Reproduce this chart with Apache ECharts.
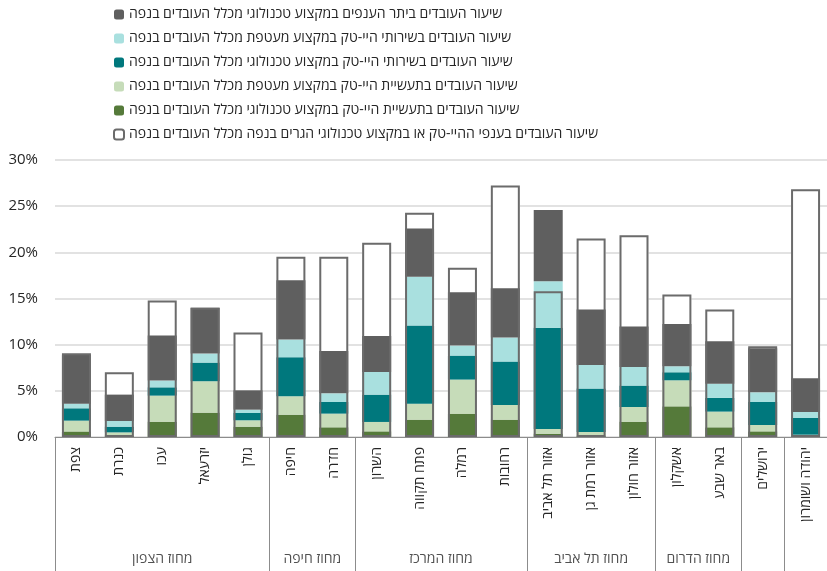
<!DOCTYPE html>
<html>
<head>
<meta charset="utf-8">
<script src="https://cdn.jsdelivr.net/npm/echarts@6/dist/echarts.min.js"></script>
<style>
html,body{margin:0;padding:0;background:#fff;}
#chart{width:827px;height:571px;}
</style>
</head>
<body>
<div id="chart"></div>
<script>
// ---- data ----
var categories = ['צפת','כנרת','עכו','יזרעאל','גולן','חיפה','חדרה','השרון','פתח תקווה','רמלה','רחובות','אזור תל אביב','אזור רמת גן','אזור חולון','אשקלון','באר שבע','ירושלים','יהודה ושומרון'];
var groupNames = ['מחוז הצפון','מחוז חיפה','מחוז המרכז','מחוז תל אביב','מחוז הדרום','',''];
var groupSizes = [5,2,4,3,2,1,1];

var industryTech   = [0.60,0.15,1.66,2.64,1.12, 2.42,1.05, 0.61,1.88,2.53,1.88, 0.36,0.15,1.66, 3.32,1.05, 0.61, 0.07];
var industryWrap   = [1.17,0.35,2.82,3.40,0.69, 1.99,1.48, 1.02,1.73,3.69,1.59, 0.51,0.39,1.59, 2.82,1.70, 0.69, 0.18];
var servicesTech   = [1.34,0.62,0.90,2.02,0.79, 4.23,1.26, 2.96,8.46,2.60,4.70, 10.95,4.70,2.32, 0.87,1.48, 2.49, 1.81];
var servicesWrap   = [0.50,0.61,0.73,0.98,0.36, 1.91,0.94, 2.46,5.28,1.08,2.60, 5.06,2.57,2.02, 0.65,1.55, 1.05, 0.65];
var otherTech      = [5.28,2.86,4.88,4.95,2.10, 6.44,4.59, 3.90,5.24,5.78,5.35, 7.70,6.00,4.37, 4.59,4.59, 4.77, 3.65];
var residentsTotal = [9.07,7.01,14.78,13.99,11.31, 19.52,19.52, 21.03,24.29,18.32,27.25, 15.79,21.50,21.86, 15.43,13.81, 9.83, 26.82];

var yTicks = [0,5,10,15,20,25,30];

var names = {
  other: 'שיעור העובדים ביתר הענפים במקצוע טכנולוגי מכלל העובדים בנפה',
  servWrap: 'שיעור העובדים בשירותי היי-טק במקצוע מעטפת מכלל העובדים בנפה',
  servTech: 'שיעור העובדים בשירותי היי-טק במקצוע טכנולוגי מכלל העובדים בנפה',
  indWrap: 'שיעור העובדים בתעשיית היי-טק במקצוע מעטפת מכלל העובדים בנפה',
  indTech: 'שיעור העובדים בתעשיית היי-טק במקצוע טכנולוגי מכלל העובדים בנפה',
  total: 'שיעור העובדים בענפי ההיי-טק או במקצוע טכנולוגי הגרים בנפה מכלל העובדים בנפה'
};

// ---- build ----
var FONT = '"Open Sans", "Noto Sans", sans-serif';
var TXT = '#262626';
var BW = 29;
var borderGray = '#6b6b6b';

var groupPoints = [];
var boundaries = [];
var acc = 0;
for (var i = 0; i < groupSizes.length; i++) {
  boundaries.push({xAxis: acc});
  groupPoints.push({name: groupNames[i], value: [acc + groupSizes[i] / 2, 0.09]});
  acc += groupSizes[i];
}

function stackSeries(name, data, color) {
  return {
    name: name, type: 'bar', stack: 'a', data: data,
    barWidth: BW, barGap: '-100%',
    itemStyle: {color: color},
    xAxisIndex: 0, yAxisIndex: 0
  };
}

var chart = echarts.init(document.getElementById('chart'), null, {renderer: 'canvas'});
chart.setOption({
  animation: false,
  textStyle: {fontFamily: FONT},
  legend: {
    orient: 'vertical',
    left: 108,
    top: 2,
    itemWidth: 10,
    itemHeight: 10,
    itemGap: 9,
    selectedMode: false,
    textStyle: {fontFamily: FONT, fontSize: 14, color: TXT, lineHeight: 15},
    data: [
      {name: names.other},
      {name: names.servWrap},
      {name: names.servTech},
      {name: names.indWrap},
      {name: names.indTech},
      {name: names.total, itemStyle: {color: '#fff', borderColor: borderGray, borderWidth: 2}}
    ]
  },
  grid: [
    {left: 55, width: 775, top: 160, height: 277, containLabel: false},
    {left: 55, width: 775, top: 437, height: 134, containLabel: false}
  ],
  xAxis: [
    {
      type: 'category', data: categories, gridIndex: 0,
      axisLine: {show: true, lineStyle: {color: '#8c8c8c', width: 1}},
      axisTick: {show: false},
      axisLabel: {rotate: 90, margin: 10, fontFamily: FONT, fontSize: 14, color: TXT, interval: 0}
    },
    {type: 'value', gridIndex: 1, min: 0, max: categories.length, show: false}
  ],
  yAxis: [
    {
      type: 'value', gridIndex: 0, min: yTicks[0], max: yTicks[yTicks.length - 1], interval: 5,
      axisLine: {show: false}, axisTick: {show: false},
      splitLine: {lineStyle: {color: '#d9d9d9', width: 1.5}},
      axisLabel: {formatter: '{value}%', fontFamily: FONT, fontSize: 15, color: TXT, margin: 17}
    },
    {type: 'value', gridIndex: 1, min: 0, max: 1, show: false}
  ],
  series: [
    {
      name: names.total, type: 'bar', data: residentsTotal, barWidth: BW, barGap: '-100%',
      itemStyle: {color: '#ffffff'}
    },
    stackSeries(names.indTech, industryTech, '#557a3a'),
    stackSeries(names.indWrap, industryWrap, '#c6dcb9'),
    stackSeries(names.servTech, servicesTech, '#00787d'),
    stackSeries(names.servWrap, servicesWrap, '#a9e0df'),
    stackSeries(names.other, otherTech, '#5f5f5f'),
    {
      name: names.total, type: 'bar', data: residentsTotal, barWidth: BW, barGap: '-100%',
      itemStyle: {color: 'rgba(0,0,0,0)', borderColor: borderGray, borderWidth: 2}
    },
    {
      type: 'scatter', xAxisIndex: 1, yAxisIndex: 1, silent: true,
      symbolSize: 1, itemStyle: {color: 'rgba(0,0,0,0)'},
      data: groupPoints,
      label: {show: true, position: 'inside', formatter: '{b}', fontFamily: FONT, fontSize: 14, color: TXT},
      markLine: {
        silent: true, symbol: ['none', 'none'],
        label: {show: false},
        lineStyle: {color: '#8c8c8c', width: 1, type: 'solid'},
        data: boundaries
      }
    }
  ]
});
</script>
</body>
</html>
